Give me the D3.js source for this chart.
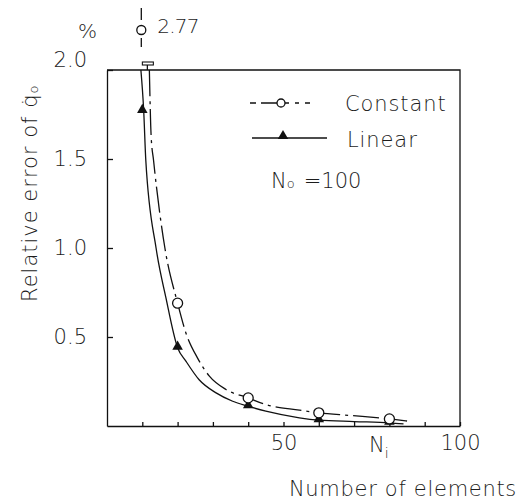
<!DOCTYPE html>
<html lang="en">
<head>
<meta charset="UTF-8" />
<script src="https://cdn.jsdelivr.net/npm/d3@7"></script>
<title>Relative error</title>
<style>
  body { margin: 0; background: #fff; }
  svg text { font-family: "DejaVu Sans", sans-serif; font-weight: 200; fill: #1c1c1c; }
</style>
</head>
<body>
<svg width="527" height="501"></svg>
<script>
// markers
var constMarkX = [20, 40, 60, 80];
var constMarkY = [0.69, 0.158, 0.074, 0.04];
var linMarkX = [10, 20, 40, 60, 80];
var linMarkY = [1.77, 0.44, 0.111, 0.033, 0.018];
var offScaleX = 10, offScaleY = 2.77;

// fitted curves
var constCurveX = [12, 12.5, 13.2, 16.4, 20, 22.4, 25.7, 29, 33.7, 40, 45, 54.5, 60, 69, 80, 85];
var constCurveY = [2.0, 1.63, 1.49, 1.0, 0.69, 0.52, 0.38, 0.28, 0.205, 0.158, 0.12, 0.089, 0.074, 0.059, 0.04, 0.028];
var linCurveX = [9.6, 10.4, 11.0, 13.9, 16.7, 20, 22.4, 26.1, 30.9, 35.6, 40, 45, 54.5, 60, 70, 80, 84];
var linCurveY = [2.0, 1.77, 1.49, 1.0, 0.72, 0.44, 0.363, 0.26, 0.186, 0.139, 0.111, 0.083, 0.046, 0.033, 0.025, 0.018, 0.012];

var xTickValues = [10, 20, 30, 40, 50, 60, 70, 80, 90, 100];
var xTickLabels = [50, 100];
var yTickValues = [0.5, 1.0, 1.5, 2.0];

var svg = d3.select("svg");
var x = d3.scaleLinear().domain([0, 100]).range([107, 460]);
var y = d3.scaleLinear().domain([0, 2]).range([426, 70]);

var ink = "#111";

// frame top + right
svg.append("path")
  .attr("d", "M" + x(0) + "," + y(2) + "H" + x(100) + "V" + y(0))
  .attr("fill", "none").attr("stroke", ink).attr("stroke-width", 1.3);

var yAxis = svg.append("g")
  .attr("transform", "translate(" + x(0) + ",0)")
  .call(d3.axisLeft(y).tickValues(yTickValues).tickSize(-6).tickSizeOuter(0)
    .tickPadding(20).tickFormat(d3.format(".1f")));
yAxis.selectAll("text").filter(function (d) { return d === 2; }).attr("dy", "-0.15em");

var xAxis = svg.append("g")
  .attr("transform", "translate(0," + y(0) + ")")
  .call(d3.axisBottom(x).tickValues(xTickValues).tickSize(-4).tickSizeOuter(0)
    .tickPadding(9)
    .tickFormat(function (d) { return xTickLabels.indexOf(d) >= 0 ? d : ""; }));

svg.selectAll(".domain, .tick line").attr("stroke", ink).attr("stroke-width", 1.3);
svg.selectAll(".tick text").attr("font-size", 21).attr("fill", "#1c1c1c")
  .attr("font-family", "DejaVu Sans, sans-serif").attr("font-weight", 200);

// curves
var line = d3.line()
  .x(function (d) { return x(d[0]); })
  .y(function (d) { return y(d[1]); })
  .curve(d3.curveMonotoneX);

svg.append("path")
  .datum(constCurveX.map(function (v, i) { return [v, constCurveY[i]]; }))
  .attr("d", line).attr("fill", "none").attr("stroke", ink)
  .attr("stroke-width", 1.3).attr("stroke-dasharray", "26,5,3,5");

svg.append("path")
  .datum(linCurveX.map(function (v, i) { return [v, linCurveY[i]]; }))
  .attr("d", line).attr("fill", "none").attr("stroke", ink)
  .attr("stroke-width", 1.3);

// cut-off mark where the curves leave the frame
var cutX = x(constCurveX[0]) - 2;
svg.append("rect").attr("x", cutX - 5).attr("y", y(2) - 8).attr("width", 11).attr("height", 3)
  .attr("fill", "none").attr("stroke", ink).attr("stroke-width", 1.1);
svg.append("line").attr("x1", cutX).attr("x2", cutX).attr("y1", y(2) - 5).attr("y2", y(2))
  .attr("stroke", ink).attr("stroke-width", 1.3);

// markers
var tri = d3.symbol().type(d3.symbolTriangle).size(48);

svg.selectAll(".lin").data(linMarkX).enter().append("path")
  .attr("class", "lin")
  .attr("transform", function (d, i) { return "translate(" + x(d) + "," + (y(linMarkY[i]) - 1) + ")"; })
  .attr("d", tri).attr("fill", ink);

svg.selectAll(".con").data(constMarkX).enter().append("circle")
  .attr("class", "con")
  .attr("cx", function (d) { return x(d); })
  .attr("cy", function (d, i) { return y(constMarkY[i]); })
  .attr("r", 5).attr("fill", "#fff").attr("stroke", ink).attr("stroke-width", 1.3);

// off-scale point shown above the frame
var offY = y(2) - 40;
svg.append("line").attr("x1", x(offScaleX) - 1).attr("x2", x(offScaleX) - 1)
  .attr("y1", offY - 22).attr("y2", offY + 17)
  .attr("stroke", ink).attr("stroke-width", 1.3).attr("stroke-dasharray", "12,18,9");
svg.append("circle").attr("cx", x(offScaleX) - 1).attr("cy", offY).attr("r", 4.5)
  .attr("fill", "#fff").attr("stroke", ink).attr("stroke-width", 1.3);
svg.append("text").attr("x", x(offScaleX) + 15).attr("y", offY + 3)
  .attr("font-size", 20).attr("letter-spacing", -0.8).text(offScaleY.toFixed(2));

// axis titles
svg.append("text").attr("x", 78).attr("y", 38).attr("font-size", 20).text("%");

var ylab = svg.append("text")
  .attr("transform", "translate(37,302) rotate(-90)")
  .attr("font-size", 21).attr("letter-spacing", 1);
ylab.append("tspan").text("Relative error of q\u0307");
ylab.append("tspan").attr("font-size", 13).attr("dy", 1).text("o");

svg.append("text").attr("x", 517).attr("y", 496).attr("text-anchor", "end")
  .attr("font-size", 21).attr("letter-spacing", 0.7).text("Number of elements");

var ni = svg.append("text").attr("x", 369).attr("y", 452).attr("font-size", 21);
ni.append("tspan").text("N");
ni.append("tspan").attr("font-size", 14).attr("dy", 6).text("i");

// legend
var legend = svg.append("g");
legend.append("line").attr("x1", 250).attr("x2", 327).attr("y1", 103).attr("y2", 103)
  .attr("stroke", ink).attr("stroke-width", 1.3).attr("stroke-dasharray", "6,5,17,5,6,6,4");
legend.append("circle").attr("cx", 281).attr("cy", 103).attr("r", 4)
  .attr("fill", "#fff").attr("stroke", ink).attr("stroke-width", 1.3);
legend.append("text").attr("x", 345).attr("y", 111).attr("font-size", 21)
  .attr("letter-spacing", 0.9).text("Constant");

legend.append("line").attr("x1", 252).attr("x2", 327).attr("y1", 138).attr("y2", 138)
  .attr("stroke", ink).attr("stroke-width", 1.3);
legend.append("path").attr("transform", "translate(283,136)").attr("d", tri).attr("fill", ink);
legend.append("text").attr("x", 347).attr("y", 147).attr("font-size", 21)
  .attr("letter-spacing", 0.9).text("Linear");

var n0 = legend.append("text").attr("x", 271).attr("y", 188).attr("font-size", 21);
n0.append("tspan").text("N");
n0.append("tspan").attr("font-size", 13).attr("dy", 0).text("o");
n0.append("tspan").attr("font-size", 21).attr("dx", 9).text("=100");
</script>
</body>
</html>
